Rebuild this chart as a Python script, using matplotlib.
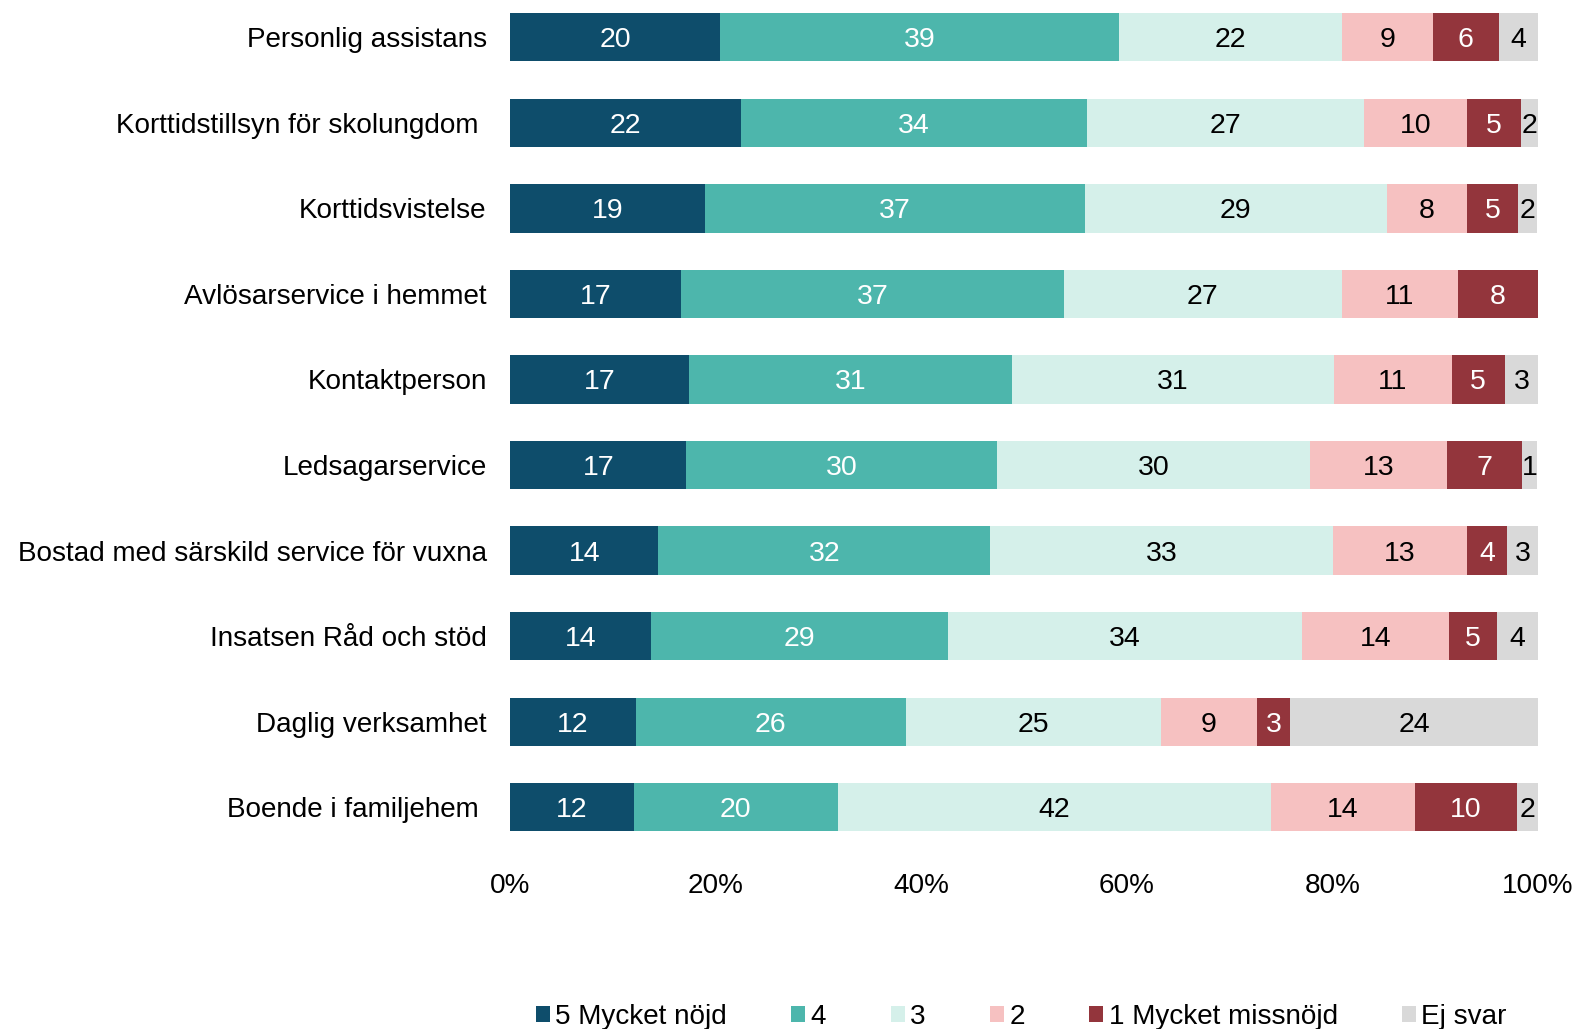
import matplotlib.pyplot as plt
import numpy as np

plt.rcParams['font.family'] = ['Liberation Sans', 'DejaVu Sans']

categories = [
    "Personlig assistans",
    "Korttidstillsyn för skolungdom ",
    "Korttidsvistelse",
    "Avlösarservice i hemmet",
    "Kontaktperson",
    "Ledsagarservice",
    "Bostad med särskild service för vuxna",
    "Insatsen Råd och stöd",
    "Daglig verksamhet",
    "Boende i familjehem ",
]

series_names = ["5 Mycket nöjd", "4", "3", "2", "1 Mycket missnöjd", "Ej svar"]

# procent per betyg, läst ur bilden
v5 = [20.4, 22.4, 18.9, 16.6, 17.4, 17.1, 14.4, 13.7, 12.2, 12.0]
v4 = [38.8, 33.7, 37.0, 37.3, 31.4, 30.3, 32.3, 28.9, 26.3, 19.9]
v3 = [21.7, 27.0, 29.4, 27.0, 31.4, 30.4, 33.4, 34.4, 24.8, 42.1]
v2 = [8.9, 10.0, 7.8, 11.3, 11.4, 13.4, 13.0, 14.4, 9.4, 14.0]
v1 = [6.4, 5.3, 5.0, 7.8, 5.2, 7.3, 3.9, 4.6, 3.2, 10.0]
ej = [3.8, 1.6, 1.8, 0.0, 3.2, 1.4, 3.0, 4.0, 24.1, 2.0]

colors = ["#0E4D6B", "#4DB6AC", "#D5F0EA", "#F6C1C1", "#93353C", "#D9D9D9"]
text_colors = ["white", "white", "black", "black", "white", "black"]

data = np.array([v5, v4, v3, v2, v1, ej])

fig = plt.figure(figsize=(15.81, 10.29), dpi=100)
ax = fig.add_axes([0.3228, 0.192, 0.6499, 0.7953])

y = np.arange(len(categories))
h = 0.565
left = np.zeros(len(categories))
for i, name in enumerate(series_names):
    vals = data[i]
    ax.barh(y, vals, left=left, height=h, color=colors[i], label=name)
    for j, v in enumerate(vals):
        if v <= 0:
            continue
        ax.text(left[j] + v / 2, y[j], f"{v:.0f}", ha='center', va='center_baseline',
                fontsize=20.5, color=text_colors[i])
    left += vals

ax.set_xlim(0, 100)
ax.set_ylim(len(categories) - 1 + h / 2, -h / 2)
ax.set_yticks(y)
ax.set_yticklabels(categories, fontsize=20.1)
ax.set_xticks(np.arange(0, 101, 20))
ax.set_xticklabels([f"{t}%" for t in range(0, 101, 20)], fontsize=20.1)
ax.tick_params(axis='y', length=0, pad=17)
ax.tick_params(axis='x', length=0, pad=30)
for s in ax.spines.values():
    s.set_visible(False)

fig.legend(loc='center', bbox_to_anchor=(0.646, 0.012), ncol=6, frameon=False,
           fontsize=20.1, handlelength=0.5, handleheight=0.5, handletextpad=0.2,
           columnspacing=2.3)

fig.savefig("out.png", dpi=100)
